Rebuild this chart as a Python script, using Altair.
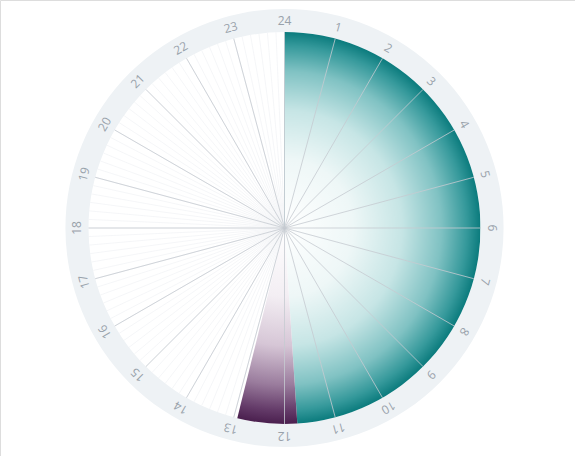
import math
import altair as alt
import pandas as pd

# ---- data -------------------------------------------------------------
hour_ticks = list(range(1, 25))
hour_labels = [str(h) for h in hour_ticks]
seg_names = ["sleep", "nap"]
seg_start = [0.0, 11.75]
seg_end = [11.75, 12.93]
fine_ticks = [i / 6 for i in range(144)]  # 10-minute guide lines

# ---- layout / style ----------------------------------------------------
W, H = 575, 456
CX, CY = 284.5, 228.0
R = 196.0
RING_OUT = 219.0
LABEL_R = 207.5

teal_stops = [(0.0, "#ffffff"), (0.35, "#eef7f7"), (0.6, "#c6e5e5"),
              (0.8, "#80c2c3"), (0.93, "#35999b"), (1.0, "#0b7b7d")]
purple_stops = [(0.0, "#ffffff"), (0.35, "#f3eef3"), (0.6, "#d6c6d6"),
                (0.8, "#9a7c9d"), (0.93, "#643b69"), (1.0, "#4a1f4e")]


def wedge_gradient(h0, h1, stops):
    a0 = h0 / 24 * 2 * math.pi
    a1 = h1 / 24 * 2 * math.pi
    pts = [(0.0, 0.0), (math.sin(a0), -math.cos(a0)), (math.sin(a1), -math.cos(a1))]
    for k in range(5):
        a = k * math.pi / 2
        if a0 < a < a1:
            pts.append((math.sin(a), -math.cos(a)))
    xs = [p[0] for p in pts]
    ys = [p[1] for p in pts]
    xmin, xmax, ymin, ymax = min(xs), max(xs), min(ys), max(ys)
    w, h = xmax - xmin, ymax - ymin
    s = max(w, h)
    ox = xmin + (w - s) / 2
    oy = ymin + (h - s) / 2
    u = (0 - ox) / s
    v = (0 - oy) / s
    return {
        "gradient": "radial",
        "x1": u, "y1": v, "r1": 0,
        "x2": u, "y2": v, "r2": 1 / s,
        "stops": [{"offset": o, "color": c} for o, c in stops],
    }


theta_scale = alt.Scale(domain=[0, 24], range=[0, 2 * math.pi])

segs = pd.DataFrame({"name": seg_names, "start": seg_start, "end": seg_end})
ring_df = pd.DataFrame({"start": [0.0], "end": [24.0]})
hours_df = pd.DataFrame({"hour": hour_ticks, "label": hour_labels})
fine_df = pd.DataFrame({"hour": fine_ticks})

ring = alt.Chart(ring_df).mark_arc(
    radius=RING_OUT, radius2=R, fill="#eef2f5", stroke=None
).encode(
    theta=alt.Theta("start:Q", scale=theta_scale),
    theta2=alt.Theta2("end:Q"),
    x=alt.value(CX), y=alt.value(CY),
)


def spokes(df, color, width, opacity):
    return alt.Chart(df).transform_calculate(
        x1=f"{CX}",
        y1=f"{CY}",
        x2=f"{CX} + {R} * sin(datum.hour * PI / 12)",
        y2=f"{CY} - {R} * cos(datum.hour * PI / 12)",
    ).mark_rule(color=color, strokeWidth=width, opacity=opacity).encode(
        x=alt.X("x1:Q", scale=None, axis=None),
        y=alt.Y("y1:Q", scale=None, axis=None),
        x2=alt.X2("x2:Q"),
        y2=alt.Y2("y2:Q"),
    )


fine = spokes(fine_df, "#f2f4f6", 0.8, 1.0)

layers = [ring, fine]
stops_for = {"sleep": teal_stops, "nap": purple_stops}
for name, s0, s1 in zip(seg_names, seg_start, seg_end):
    layers.append(
        alt.Chart(segs).transform_filter(alt.datum.name == name).mark_arc(
            radius=R, fill=wedge_gradient(s0, s1, stops_for[name]), stroke=None
        ).encode(
            theta=alt.Theta("start:Q", scale=theta_scale),
            theta2=alt.Theta2("end:Q"),
            x=alt.value(CX), y=alt.value(CY),
        )
    )

layers.append(spokes(hours_df, "#c5cbd1", 1.0, 0.8))

labels = alt.Chart(hours_df).transform_calculate(
    lx=f"{CX} + {LABEL_R} * sin(datum.hour * PI / 12)",
    ly=f"{CY} - {LABEL_R} * cos(datum.hour * PI / 12)",
    la="(datum.hour * 15) % 360",
).mark_text(
    font="Open Sans", fontSize=12, color="#98a1aa", align="center", baseline="middle"
).encode(
    x=alt.X("lx:Q", scale=None, axis=None),
    y=alt.Y("ly:Q", scale=None, axis=None),
    angle=alt.Angle("la:Q", scale=None),
    text="label:N",
)
layers.append(labels)

chart = alt.layer(*layers).properties(
    width=W, height=H, autosize="none", padding=0
).configure_view(stroke=None).configure(background="white")

chart.save("out.html", embed_options={"renderer": "svg", "actions": False})
